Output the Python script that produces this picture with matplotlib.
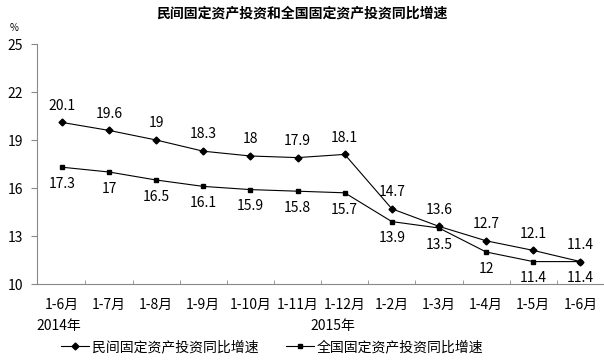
import matplotlib
matplotlib.use("Agg")
import matplotlib.pyplot as plt
import numpy as np

plt.rcParams['font.family'] = ['Noto Sans CJK SC', 'DejaVu Sans']

# 数据
months = ['1-6月', '1-7月', '1-8月', '1-9月', '1-10月', '1-11月', '1-12月',
          '1-2月', '1-3月', '1-4月', '1-5月', '1-6月']
private = [20.1, 19.6, 19, 18.3, 18, 17.9, 18.1, 14.7, 13.6, 12.7, 12.1, 11.4]
total = [17.3, 17, 16.5, 16.1, 15.9, 15.8, 15.7, 13.9, 13.5, 12, 11.4, 11.4]
private_lbl = ['20.1', '19.6', '19', '18.3', '18', '17.9', '18.1', '14.7', '13.6', '12.7', '12.1', '11.4']
total_lbl = ['17.3', '17', '16.5', '16.1', '15.9', '15.8', '15.7', '13.9', '13.5', '12', '11.4', '11.4']
yticks = [10, 13, 16, 19, 22, 25]

fig = plt.figure(figsize=(6.04, 3.61), dpi=100)
ax = fig.add_axes([37/604, 1-284/361, 1-37/604, 240/361])

x = np.arange(len(months))
l1, = ax.plot(x, private, color='black', lw=0.8, marker='D', ms=3.5, label='民间固定资产投资同比增速')
l2, = ax.plot(x, total, color='black', lw=0.8, marker='s', ms=3.5, label='全国固定资产投资同比增速')

# 数据标签
for i in range(len(x)):
    ax.annotate(private_lbl[i], (x[i], private[i]), xytext=(0, 7), textcoords='offset points',
                ha='center', va='bottom', fontsize=10)
    ax.annotate(total_lbl[i], (x[i], total[i]), xytext=(0, -7), textcoords='offset points',
                ha='center', va='top', fontsize=10)

ax.set_xlim(-0.527, 11.42)
ax.set_ylim(10, 25)
ax.set_yticks(yticks)
ax.set_yticklabels([str(v) for v in yticks], fontsize=10)
ax.set_xticks(x)
ax.set_xticklabels(months, fontsize=10)
ax.set_xticks(np.arange(len(x)) + 0.5, minor=True)
ax.tick_params(axis='x', which='major', length=0, pad=10)
ax.tick_params(axis='x', which='minor', direction='in', length=3, color='#888888')
ax.tick_params(axis='y', direction='out', length=4, color='#888888', pad=6)

for s in ['top', 'right']:
    ax.spines[s].set_visible(False)
for s in ['left', 'bottom']:
    ax.spines[s].set_color('#888888')

fig.text(0.5, 1-14/361, '民间固定资产投资和全国固定资产投资同比增速', ha='center', va='center',
         fontsize=10, fontweight='bold')
fig.text(10/604, 1-28/361, '%', ha='left', va='center', fontsize=7)
fig.text(36/604, 1-326/361, '2014年', ha='left', va='center', fontsize=10)
fig.text(310/604, 1-326/361, '2015年', ha='left', va='center', fontsize=10)

fig.legend(handles=[l1, l2], loc='center', bbox_to_anchor=(272/604, 1-347/361), ncol=2,
           frameon=False, fontsize=10, handlelength=2, columnspacing=2, handletextpad=0.2)

fig.savefig('out.png', dpi=100)
